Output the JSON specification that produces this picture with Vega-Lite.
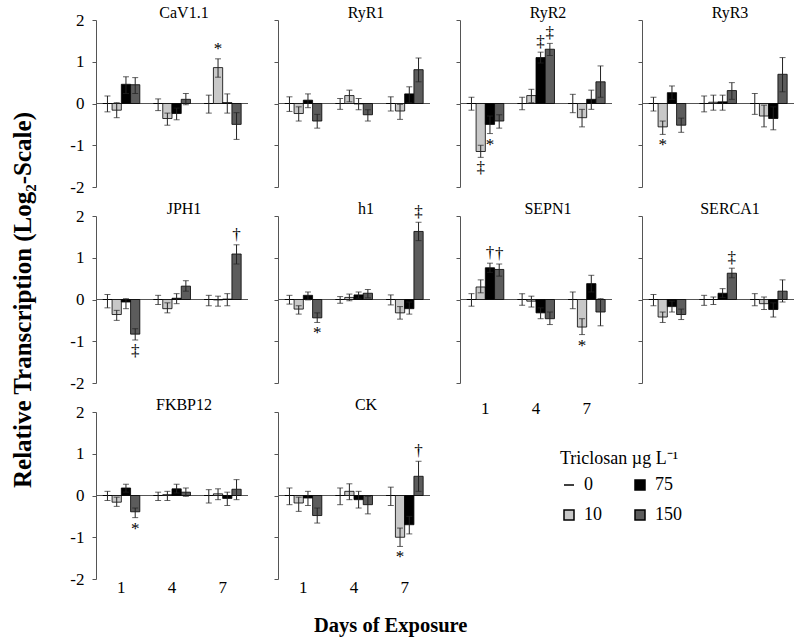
{
"$schema": "https://vega.github.io/schema/vega-lite/v6.json",
"padding": {"left": 10, "top": 5, "right": 5, "bottom": 5},
"config": {
 "font": "Liberation Serif",
 "view": {"stroke": null},
 "text": {"font": "Liberation Serif", "color": "#000"},
 "axisY": {"grid": false, "tickSize": 4, "domainColor": "#555", "tickColor": "#555", "labelFont": "Liberation Serif", "labelFontSize": 17, "labelColor": "#000", "labelPadding": 8, "titleFont": "Liberation Serif", "titleFontSize": 25, "titleFontWeight": "bold", "titleColor": "#000", "titlePadding": 34},
 "axisX": {"domain": false, "ticks": false, "grid": false, "labelFont": "Liberation Serif", "labelFontSize": 17, "labelColor": "#000", "labelAngle": 0, "labelPadding": 0},
 "legend": {"labelFont": "Liberation Serif", "titleFont": "Liberation Serif"}
},
"title": {"text": "Days of Exposure", "orient": "bottom", "anchor": "middle", "font": "Liberation Serif", "fontSize": 20.5, "fontWeight": "bold", "color": "#000", "offset": 21, "dx": -12},
"data": {"name": "d"},
"datasets": {"d": [
{"g":"CaV1.1","d":"1","c":"0","v":0,"lo":-0.2,"hi":0.18},
{"g":"CaV1.1","d":"1","c":"10","v":-0.16,"lo":-0.34,"hi":0.02},
{"g":"CaV1.1","d":"1","c":"75","v":0.46,"lo":0.24,"hi":0.64},
{"g":"CaV1.1","d":"1","c":"150","v":0.45,"lo":0.24,"hi":0.62},
{"g":"CaV1.1","d":"4","c":"0","v":0,"lo":-0.17,"hi":0.11},
{"g":"CaV1.1","d":"4","c":"10","v":-0.36,"lo":-0.52,"hi":-0.23},
{"g":"CaV1.1","d":"4","c":"75","v":-0.24,"lo":-0.39,"hi":-0.11},
{"g":"CaV1.1","d":"4","c":"150","v":0.1,"lo":-0.03,"hi":0.24},
{"g":"CaV1.1","d":"7","c":"0","v":0,"lo":-0.23,"hi":0.2},
{"g":"CaV1.1","d":"7","c":"10","v":0.86,"lo":0.63,"hi":1.07,"s":"*"},
{"g":"CaV1.1","d":"7","c":"75","v":0.02,"lo":-0.23,"hi":0.23},
{"g":"CaV1.1","d":"7","c":"150","v":-0.5,"lo":-0.86,"hi":-0.22},
{"g":"RyR1","d":"1","c":"0","v":0,"lo":-0.19,"hi":0.16},
{"g":"RyR1","d":"1","c":"10","v":-0.24,"lo":-0.42,"hi":-0.08},
{"g":"RyR1","d":"1","c":"75","v":0.08,"lo":-0.1,"hi":0.23},
{"g":"RyR1","d":"1","c":"150","v":-0.42,"lo":-0.59,"hi":-0.26},
{"g":"RyR1","d":"4","c":"0","v":0,"lo":-0.14,"hi":0.12},
{"g":"RyR1","d":"4","c":"10","v":0.19,"lo":0.04,"hi":0.32},
{"g":"RyR1","d":"4","c":"75","v":-0.01,"lo":-0.15,"hi":0.12},
{"g":"RyR1","d":"4","c":"150","v":-0.27,"lo":-0.42,"hi":-0.15},
{"g":"RyR1","d":"7","c":"0","v":0,"lo":-0.18,"hi":0.16},
{"g":"RyR1","d":"7","c":"10","v":-0.18,"lo":-0.38,"hi":-0.02},
{"g":"RyR1","d":"7","c":"75","v":0.23,"lo":0.02,"hi":0.4},
{"g":"RyR1","d":"7","c":"150","v":0.81,"lo":0.52,"hi":1.09},
{"g":"RyR2","d":"1","c":"0","v":0,"lo":-0.16,"hi":0.15},
{"g":"RyR2","d":"1","c":"10","v":-1.15,"lo":-1.29,"hi":-1.0,"s":"‡"},
{"g":"RyR2","d":"1","c":"75","v":-0.5,"lo":-0.72,"hi":-0.3,"s":"*"},
{"g":"RyR2","d":"1","c":"150","v":-0.42,"lo":-0.59,"hi":-0.27},
{"g":"RyR2","d":"4","c":"0","v":0,"lo":-0.15,"hi":0.15},
{"g":"RyR2","d":"4","c":"10","v":0.19,"lo":0.02,"hi":0.34},
{"g":"RyR2","d":"4","c":"75","v":1.1,"lo":0.97,"hi":1.23,"s":"‡"},
{"g":"RyR2","d":"4","c":"150","v":1.3,"lo":1.15,"hi":1.44,"s":"‡"},
{"g":"RyR2","d":"7","c":"0","v":0,"lo":-0.22,"hi":0.22},
{"g":"RyR2","d":"7","c":"10","v":-0.34,"lo":-0.56,"hi":-0.14},
{"g":"RyR2","d":"7","c":"75","v":0.1,"lo":-0.14,"hi":0.32},
{"g":"RyR2","d":"7","c":"150","v":0.52,"lo":0.15,"hi":0.9},
{"g":"RyR3","d":"1","c":"0","v":0,"lo":-0.18,"hi":0.15},
{"g":"RyR3","d":"1","c":"10","v":-0.56,"lo":-0.74,"hi":-0.42,"s":"*"},
{"g":"RyR3","d":"1","c":"75","v":0.26,"lo":0.1,"hi":0.42},
{"g":"RyR3","d":"1","c":"150","v":-0.52,"lo":-0.69,"hi":-0.35},
{"g":"RyR3","d":"4","c":"0","v":0,"lo":-0.2,"hi":0.18},
{"g":"RyR3","d":"4","c":"10","v":0.03,"lo":-0.16,"hi":0.2},
{"g":"RyR3","d":"4","c":"75","v":0.04,"lo":-0.16,"hi":0.2},
{"g":"RyR3","d":"4","c":"150","v":0.31,"lo":0.1,"hi":0.5},
{"g":"RyR3","d":"7","c":"0","v":0,"lo":-0.26,"hi":0.24},
{"g":"RyR3","d":"7","c":"10","v":-0.3,"lo":-0.56,"hi":-0.04},
{"g":"RyR3","d":"7","c":"75","v":-0.36,"lo":-0.63,"hi":-0.08},
{"g":"RyR3","d":"7","c":"150","v":0.7,"lo":0.28,"hi":1.1},
{"g":"JPH1","d":"1","c":"0","v":0,"lo":-0.2,"hi":0.12},
{"g":"JPH1","d":"1","c":"10","v":-0.36,"lo":-0.5,"hi":-0.26},
{"g":"JPH1","d":"1","c":"75","v":-0.06,"lo":-0.22,"hi":0.02},
{"g":"JPH1","d":"1","c":"150","v":-0.83,"lo":-0.97,"hi":-0.7,"s":"‡"},
{"g":"JPH1","d":"4","c":"0","v":0,"lo":-0.12,"hi":0.1},
{"g":"JPH1","d":"4","c":"10","v":-0.22,"lo":-0.32,"hi":-0.08},
{"g":"JPH1","d":"4","c":"75","v":0.03,"lo":-0.1,"hi":0.14},
{"g":"JPH1","d":"4","c":"150","v":0.32,"lo":0.2,"hi":0.45},
{"g":"JPH1","d":"7","c":"0","v":0,"lo":-0.15,"hi":0.1},
{"g":"JPH1","d":"7","c":"10","v":-0.01,"lo":-0.16,"hi":0.08},
{"g":"JPH1","d":"7","c":"75","v":0.01,"lo":-0.15,"hi":0.14},
{"g":"JPH1","d":"7","c":"150","v":1.09,"lo":0.85,"hi":1.31,"s":"†"},
{"g":"h1","d":"1","c":"0","v":0,"lo":-0.11,"hi":0.1},
{"g":"h1","d":"1","c":"10","v":-0.23,"lo":-0.35,"hi":-0.15},
{"g":"h1","d":"1","c":"75","v":0.1,"lo":-0.01,"hi":0.18},
{"g":"h1","d":"1","c":"150","v":-0.44,"lo":-0.55,"hi":-0.32,"s":"*"},
{"g":"h1","d":"4","c":"0","v":0,"lo":-0.09,"hi":0.07},
{"g":"h1","d":"4","c":"10","v":0.05,"lo":-0.03,"hi":0.13},
{"g":"h1","d":"4","c":"75","v":0.11,"lo":0.03,"hi":0.18},
{"g":"h1","d":"4","c":"150","v":0.15,"lo":0.04,"hi":0.24},
{"g":"h1","d":"7","c":"0","v":0,"lo":-0.13,"hi":0.11},
{"g":"h1","d":"7","c":"10","v":-0.32,"lo":-0.47,"hi":-0.17},
{"g":"h1","d":"7","c":"75","v":-0.22,"lo":-0.35,"hi":-0.06},
{"g":"h1","d":"7","c":"150","v":1.63,"lo":1.41,"hi":1.85,"s":"‡"},
{"g":"SEPN1","d":"1","c":"0","v":0,"lo":-0.16,"hi":0.14},
{"g":"SEPN1","d":"1","c":"10","v":0.3,"lo":0.16,"hi":0.47},
{"g":"SEPN1","d":"1","c":"75","v":0.76,"lo":0.65,"hi":0.87,"s":"†"},
{"g":"SEPN1","d":"1","c":"150","v":0.72,"lo":0.56,"hi":0.85,"s":"†"},
{"g":"SEPN1","d":"4","c":"0","v":0,"lo":-0.14,"hi":0.14},
{"g":"SEPN1","d":"4","c":"10","v":-0.04,"lo":-0.18,"hi":0.08},
{"g":"SEPN1","d":"4","c":"75","v":-0.32,"lo":-0.46,"hi":-0.2},
{"g":"SEPN1","d":"4","c":"150","v":-0.46,"lo":-0.6,"hi":-0.3},
{"g":"SEPN1","d":"7","c":"0","v":0,"lo":-0.22,"hi":0.18},
{"g":"SEPN1","d":"7","c":"10","v":-0.66,"lo":-0.84,"hi":-0.46,"s":"*"},
{"g":"SEPN1","d":"7","c":"75","v":0.38,"lo":0.18,"hi":0.58},
{"g":"SEPN1","d":"7","c":"150","v":-0.3,"lo":-0.63,"hi":0.02},
{"g":"SERCA1","d":"1","c":"0","v":0,"lo":-0.15,"hi":0.12},
{"g":"SERCA1","d":"1","c":"10","v":-0.42,"lo":-0.55,"hi":-0.3},
{"g":"SERCA1","d":"1","c":"75","v":-0.17,"lo":-0.3,"hi":-0.04},
{"g":"SERCA1","d":"1","c":"150","v":-0.36,"lo":-0.48,"hi":-0.23},
{"g":"SERCA1","d":"4","c":"0","v":0,"lo":-0.14,"hi":0.1},
{"g":"SERCA1","d":"4","c":"10","v":0.0,"lo":-0.12,"hi":0.06},
{"g":"SERCA1","d":"4","c":"75","v":0.15,"lo":0.05,"hi":0.26},
{"g":"SERCA1","d":"4","c":"150","v":0.63,"lo":0.52,"hi":0.75,"s":"‡"},
{"g":"SERCA1","d":"7","c":"0","v":0,"lo":-0.15,"hi":0.14},
{"g":"SERCA1","d":"7","c":"10","v":-0.1,"lo":-0.24,"hi":0.06},
{"g":"SERCA1","d":"7","c":"75","v":-0.24,"lo":-0.42,"hi":-0.08},
{"g":"SERCA1","d":"7","c":"150","v":0.2,"lo":-0.06,"hi":0.47},
{"g":"FKBP12","d":"1","c":"0","v":0,"lo":-0.12,"hi":0.1},
{"g":"FKBP12","d":"1","c":"10","v":-0.16,"lo":-0.26,"hi":-0.04},
{"g":"FKBP12","d":"1","c":"75","v":0.18,"lo":0.08,"hi":0.27},
{"g":"FKBP12","d":"1","c":"150","v":-0.39,"lo":-0.53,"hi":-0.3,"s":"*"},
{"g":"FKBP12","d":"4","c":"0","v":0,"lo":-0.12,"hi":0.08},
{"g":"FKBP12","d":"4","c":"10","v":0.02,"lo":-0.12,"hi":0.1},
{"g":"FKBP12","d":"4","c":"75","v":0.16,"lo":0.06,"hi":0.27},
{"g":"FKBP12","d":"4","c":"150","v":0.08,"lo":-0.02,"hi":0.18},
{"g":"FKBP12","d":"7","c":"0","v":0,"lo":-0.18,"hi":0.14},
{"g":"FKBP12","d":"7","c":"10","v":0.04,"lo":-0.1,"hi":0.16},
{"g":"FKBP12","d":"7","c":"75","v":-0.07,"lo":-0.24,"hi":0.08},
{"g":"FKBP12","d":"7","c":"150","v":0.15,"lo":-0.1,"hi":0.38},
{"g":"CK","d":"1","c":"0","v":0,"lo":-0.22,"hi":0.18},
{"g":"CK","d":"1","c":"10","v":-0.18,"lo":-0.38,"hi":-0.04},
{"g":"CK","d":"1","c":"75","v":-0.06,"lo":-0.24,"hi":0.1},
{"g":"CK","d":"1","c":"150","v":-0.48,"lo":-0.66,"hi":-0.3},
{"g":"CK","d":"4","c":"0","v":0,"lo":-0.22,"hi":0.18},
{"g":"CK","d":"4","c":"10","v":0.1,"lo":-0.1,"hi":0.28},
{"g":"CK","d":"4","c":"75","v":-0.1,"lo":-0.3,"hi":0.1},
{"g":"CK","d":"4","c":"150","v":-0.22,"lo":-0.44,"hi":-0.02},
{"g":"CK","d":"7","c":"0","v":0,"lo":-0.24,"hi":0.2},
{"g":"CK","d":"7","c":"10","v":-1.0,"lo":-1.22,"hi":-0.78,"s":"*"},
{"g":"CK","d":"7","c":"75","v":-0.7,"lo":-0.92,"hi":-0.5},
{"g":"CK","d":"7","c":"150","v":0.46,"lo":0.1,"hi":0.82,"s":"†"}
]},
"bounds": "flush",
"columns": 4,
"spacing": {"row": 29, "column": 30},
"concat": [
{"width": 152, "height": 167, "transform": [{"filter": "datum.g === 'CaV1.1'"}],
 "layer": [
  {"transform": [{"aggregate": [{"op": "count", "as": "n"}]}], "mark": {"type": "rule", "color": "#555", "strokeWidth": 1}, "encoding": {"y": {"datum": 0, "type": "quantitative", "title": null}}},
  {"mark": {"type": "bar", "stroke": "#000", "strokeWidth": 0.8}, "encoding": {"x": {"field": "d", "type": "ordinal", "scale": {"paddingInner": 0.27, "paddingOuter": 0.135}, "axis": null}, "xOffset": {"field": "c", "type": "nominal", "sort": ["0","10","75","150"]}, "y": {"field": "v", "type": "quantitative", "title": null, "scale": {"domain": [-2, 2], "nice": false}, "axis": {"values": [-2,-1,0,1,2], "labelExpr": "datum.value + ''"}}, "color": {"field": "c", "type": "nominal", "scale": {"domain": ["0","10","75","150"], "range": ["#ffffff","#c8c8c8","#000000","#5c5c5c"]}, "legend": {"title": "Triclosan µg L⁻¹", "orient": "none", "legendX": 464, "legendY": 430, "columns": 2, "columnPadding": 29, "rowPadding": 12, "symbolType": "square", "symbolSize": 100, "symbolStrokeColor": "#000", "symbolStrokeWidth": 1.5, "labelFontSize": 18, "titleFontSize": 18, "titleFontWeight": "normal", "titleColor": "#000", "labelColor": "#000", "labelOffset": 6, "titlePadding": 8, "encode": {"symbols": {"update": {"shape": {"signal": "datum.value === '0' ? 'stroke' : 'square'"}}}}}}}},
  {"mark": {"type": "rule", "color": "#222", "strokeWidth": 1}, "encoding": {"x": {"field": "d", "type": "ordinal", "axis": null}, "xOffset": {"field": "c", "type": "nominal", "sort": ["0","10","75","150"]}, "y": {"field": "lo", "type": "quantitative", "title": null}, "y2": {"field": "hi"}}},
  {"mark": {"type": "tick", "color": "#222", "thickness": 1, "size": 6}, "encoding": {"x": {"field": "d", "type": "ordinal", "axis": null}, "xOffset": {"field": "c", "type": "nominal", "sort": ["0","10","75","150"]}, "y": {"field": "lo", "type": "quantitative", "title": null}}},
  {"mark": {"type": "tick", "color": "#222", "thickness": 1, "size": 6}, "encoding": {"x": {"field": "d", "type": "ordinal", "axis": null}, "xOffset": {"field": "c", "type": "nominal", "sort": ["0","10","75","150"]}, "y": {"field": "hi", "type": "quantitative", "title": null}}},
  {"transform": [{"filter": "datum.s && datum.v > 0"}], "mark": {"type": "text", "baseline": "bottom", "dy": -1, "fontSize": 17, "color": "#000"}, "encoding": {"x": {"field": "d", "type": "ordinal", "axis": null}, "xOffset": {"field": "c", "type": "nominal", "sort": ["0","10","75","150"]}, "y": {"field": "hi", "type": "quantitative", "title": null}, "text": {"field": "s"}}},
  {"transform": [{"filter": "datum.s && datum.v < 0"}], "mark": {"type": "text", "baseline": "top", "dy": 3, "fontSize": 17, "color": "#000"}, "encoding": {"x": {"field": "d", "type": "ordinal", "axis": null}, "xOffset": {"field": "c", "type": "nominal", "sort": ["0","10","75","150"]}, "y": {"field": "lo", "type": "quantitative", "title": null}, "text": {"field": "s"}}},
  {"transform": [{"aggregate": [{"op": "count", "as": "n"}], "groupby": ["g"]}], "mark": {"type": "text", "baseline": "middle", "dx": 12, "dy": -7, "fontSize": 16, "color": "#000"}, "encoding": {"x": {"datum": "4", "type": "ordinal", "axis": null}, "y": {"datum": 2, "type": "quantitative", "title": null}, "text": {"field": "g"}}}
 ]},
{"width": 152, "height": 167, "transform": [{"filter": "datum.g === 'RyR1'"}],
 "layer": [
  {"transform": [{"aggregate": [{"op": "count", "as": "n"}]}], "mark": {"type": "rule", "color": "#555", "strokeWidth": 1}, "encoding": {"y": {"datum": 0, "type": "quantitative", "title": null}}},
  {"mark": {"type": "bar", "stroke": "#000", "strokeWidth": 0.8}, "encoding": {"x": {"field": "d", "type": "ordinal", "scale": {"paddingInner": 0.27, "paddingOuter": 0.135}, "axis": null}, "xOffset": {"field": "c", "type": "nominal", "sort": ["0","10","75","150"]}, "y": {"field": "v", "type": "quantitative", "title": null, "scale": {"domain": [-2, 2], "nice": false}, "axis": {"values": [-2,-1,0,1,2], "labels": false}}, "color": {"field": "c", "type": "nominal", "scale": {"domain": ["0","10","75","150"], "range": ["#ffffff","#c8c8c8","#000000","#5c5c5c"]}}}},
  {"mark": {"type": "rule", "color": "#222", "strokeWidth": 1}, "encoding": {"x": {"field": "d", "type": "ordinal", "axis": null}, "xOffset": {"field": "c", "type": "nominal", "sort": ["0","10","75","150"]}, "y": {"field": "lo", "type": "quantitative", "title": null}, "y2": {"field": "hi"}}},
  {"mark": {"type": "tick", "color": "#222", "thickness": 1, "size": 6}, "encoding": {"x": {"field": "d", "type": "ordinal", "axis": null}, "xOffset": {"field": "c", "type": "nominal", "sort": ["0","10","75","150"]}, "y": {"field": "lo", "type": "quantitative", "title": null}}},
  {"mark": {"type": "tick", "color": "#222", "thickness": 1, "size": 6}, "encoding": {"x": {"field": "d", "type": "ordinal", "axis": null}, "xOffset": {"field": "c", "type": "nominal", "sort": ["0","10","75","150"]}, "y": {"field": "hi", "type": "quantitative", "title": null}}},
  {"transform": [{"filter": "datum.s && datum.v > 0"}], "mark": {"type": "text", "baseline": "bottom", "dy": -1, "fontSize": 17, "color": "#000"}, "encoding": {"x": {"field": "d", "type": "ordinal", "axis": null}, "xOffset": {"field": "c", "type": "nominal", "sort": ["0","10","75","150"]}, "y": {"field": "hi", "type": "quantitative", "title": null}, "text": {"field": "s"}}},
  {"transform": [{"filter": "datum.s && datum.v < 0"}], "mark": {"type": "text", "baseline": "top", "dy": 3, "fontSize": 17, "color": "#000"}, "encoding": {"x": {"field": "d", "type": "ordinal", "axis": null}, "xOffset": {"field": "c", "type": "nominal", "sort": ["0","10","75","150"]}, "y": {"field": "lo", "type": "quantitative", "title": null}, "text": {"field": "s"}}},
  {"transform": [{"aggregate": [{"op": "count", "as": "n"}], "groupby": ["g"]}], "mark": {"type": "text", "baseline": "middle", "dx": 12, "dy": -7, "fontSize": 16, "color": "#000"}, "encoding": {"x": {"datum": "4", "type": "ordinal", "axis": null}, "y": {"datum": 2, "type": "quantitative", "title": null}, "text": {"field": "g"}}}
 ]},
{"width": 152, "height": 167, "transform": [{"filter": "datum.g === 'RyR2'"}],
 "layer": [
  {"transform": [{"aggregate": [{"op": "count", "as": "n"}]}], "mark": {"type": "rule", "color": "#555", "strokeWidth": 1}, "encoding": {"y": {"datum": 0, "type": "quantitative", "title": null}}},
  {"mark": {"type": "bar", "stroke": "#000", "strokeWidth": 0.8}, "encoding": {"x": {"field": "d", "type": "ordinal", "scale": {"paddingInner": 0.27, "paddingOuter": 0.135}, "axis": null}, "xOffset": {"field": "c", "type": "nominal", "sort": ["0","10","75","150"]}, "y": {"field": "v", "type": "quantitative", "title": null, "scale": {"domain": [-2, 2], "nice": false}, "axis": {"values": [-2,-1,0,1,2], "labels": false}}, "color": {"field": "c", "type": "nominal", "scale": {"domain": ["0","10","75","150"], "range": ["#ffffff","#c8c8c8","#000000","#5c5c5c"]}}}},
  {"mark": {"type": "rule", "color": "#222", "strokeWidth": 1}, "encoding": {"x": {"field": "d", "type": "ordinal", "axis": null}, "xOffset": {"field": "c", "type": "nominal", "sort": ["0","10","75","150"]}, "y": {"field": "lo", "type": "quantitative", "title": null}, "y2": {"field": "hi"}}},
  {"mark": {"type": "tick", "color": "#222", "thickness": 1, "size": 6}, "encoding": {"x": {"field": "d", "type": "ordinal", "axis": null}, "xOffset": {"field": "c", "type": "nominal", "sort": ["0","10","75","150"]}, "y": {"field": "lo", "type": "quantitative", "title": null}}},
  {"mark": {"type": "tick", "color": "#222", "thickness": 1, "size": 6}, "encoding": {"x": {"field": "d", "type": "ordinal", "axis": null}, "xOffset": {"field": "c", "type": "nominal", "sort": ["0","10","75","150"]}, "y": {"field": "hi", "type": "quantitative", "title": null}}},
  {"transform": [{"filter": "datum.s && datum.v > 0"}], "mark": {"type": "text", "baseline": "bottom", "dy": -1, "fontSize": 17, "color": "#000"}, "encoding": {"x": {"field": "d", "type": "ordinal", "axis": null}, "xOffset": {"field": "c", "type": "nominal", "sort": ["0","10","75","150"]}, "y": {"field": "hi", "type": "quantitative", "title": null}, "text": {"field": "s"}}},
  {"transform": [{"filter": "datum.s && datum.v < 0"}], "mark": {"type": "text", "baseline": "top", "dy": 3, "fontSize": 17, "color": "#000"}, "encoding": {"x": {"field": "d", "type": "ordinal", "axis": null}, "xOffset": {"field": "c", "type": "nominal", "sort": ["0","10","75","150"]}, "y": {"field": "lo", "type": "quantitative", "title": null}, "text": {"field": "s"}}},
  {"transform": [{"aggregate": [{"op": "count", "as": "n"}], "groupby": ["g"]}], "mark": {"type": "text", "baseline": "middle", "dx": 12, "dy": -7, "fontSize": 16, "color": "#000"}, "encoding": {"x": {"datum": "4", "type": "ordinal", "axis": null}, "y": {"datum": 2, "type": "quantitative", "title": null}, "text": {"field": "g"}}}
 ]},
{"width": 152, "height": 167, "transform": [{"filter": "datum.g === 'RyR3'"}],
 "layer": [
  {"transform": [{"aggregate": [{"op": "count", "as": "n"}]}], "mark": {"type": "rule", "color": "#555", "strokeWidth": 1}, "encoding": {"y": {"datum": 0, "type": "quantitative", "title": null}}},
  {"mark": {"type": "bar", "stroke": "#000", "strokeWidth": 0.8}, "encoding": {"x": {"field": "d", "type": "ordinal", "scale": {"paddingInner": 0.27, "paddingOuter": 0.135}, "axis": null}, "xOffset": {"field": "c", "type": "nominal", "sort": ["0","10","75","150"]}, "y": {"field": "v", "type": "quantitative", "title": null, "scale": {"domain": [-2, 2], "nice": false}, "axis": {"values": [-2,-1,0,1,2], "labels": false}}, "color": {"field": "c", "type": "nominal", "scale": {"domain": ["0","10","75","150"], "range": ["#ffffff","#c8c8c8","#000000","#5c5c5c"]}}}},
  {"mark": {"type": "rule", "color": "#222", "strokeWidth": 1}, "encoding": {"x": {"field": "d", "type": "ordinal", "axis": null}, "xOffset": {"field": "c", "type": "nominal", "sort": ["0","10","75","150"]}, "y": {"field": "lo", "type": "quantitative", "title": null}, "y2": {"field": "hi"}}},
  {"mark": {"type": "tick", "color": "#222", "thickness": 1, "size": 6}, "encoding": {"x": {"field": "d", "type": "ordinal", "axis": null}, "xOffset": {"field": "c", "type": "nominal", "sort": ["0","10","75","150"]}, "y": {"field": "lo", "type": "quantitative", "title": null}}},
  {"mark": {"type": "tick", "color": "#222", "thickness": 1, "size": 6}, "encoding": {"x": {"field": "d", "type": "ordinal", "axis": null}, "xOffset": {"field": "c", "type": "nominal", "sort": ["0","10","75","150"]}, "y": {"field": "hi", "type": "quantitative", "title": null}}},
  {"transform": [{"filter": "datum.s && datum.v > 0"}], "mark": {"type": "text", "baseline": "bottom", "dy": -1, "fontSize": 17, "color": "#000"}, "encoding": {"x": {"field": "d", "type": "ordinal", "axis": null}, "xOffset": {"field": "c", "type": "nominal", "sort": ["0","10","75","150"]}, "y": {"field": "hi", "type": "quantitative", "title": null}, "text": {"field": "s"}}},
  {"transform": [{"filter": "datum.s && datum.v < 0"}], "mark": {"type": "text", "baseline": "top", "dy": 3, "fontSize": 17, "color": "#000"}, "encoding": {"x": {"field": "d", "type": "ordinal", "axis": null}, "xOffset": {"field": "c", "type": "nominal", "sort": ["0","10","75","150"]}, "y": {"field": "lo", "type": "quantitative", "title": null}, "text": {"field": "s"}}},
  {"transform": [{"aggregate": [{"op": "count", "as": "n"}], "groupby": ["g"]}], "mark": {"type": "text", "baseline": "middle", "dx": 12, "dy": -7, "fontSize": 16, "color": "#000"}, "encoding": {"x": {"datum": "4", "type": "ordinal", "axis": null}, "y": {"datum": 2, "type": "quantitative", "title": null}, "text": {"field": "g"}}}
 ]},
{"width": 152, "height": 167, "transform": [{"filter": "datum.g === 'JPH1'"}],
 "layer": [
  {"transform": [{"aggregate": [{"op": "count", "as": "n"}]}], "mark": {"type": "rule", "color": "#555", "strokeWidth": 1}, "encoding": {"y": {"datum": 0, "type": "quantitative", "title": "Relative Transcription  (Log₂-Scale)"}}},
  {"mark": {"type": "bar", "stroke": "#000", "strokeWidth": 0.8}, "encoding": {"x": {"field": "d", "type": "ordinal", "scale": {"paddingInner": 0.27, "paddingOuter": 0.135}, "axis": null}, "xOffset": {"field": "c", "type": "nominal", "sort": ["0","10","75","150"]}, "y": {"field": "v", "type": "quantitative", "title": "Relative Transcription  (Log₂-Scale)", "scale": {"domain": [-2, 2], "nice": false}, "axis": {"values": [-2,-1,0,1,2], "labelExpr": "datum.value + ''"}}, "color": {"field": "c", "type": "nominal", "scale": {"domain": ["0","10","75","150"], "range": ["#ffffff","#c8c8c8","#000000","#5c5c5c"]}}}},
  {"mark": {"type": "rule", "color": "#222", "strokeWidth": 1}, "encoding": {"x": {"field": "d", "type": "ordinal", "axis": null}, "xOffset": {"field": "c", "type": "nominal", "sort": ["0","10","75","150"]}, "y": {"field": "lo", "type": "quantitative", "title": "Relative Transcription  (Log₂-Scale)"}, "y2": {"field": "hi"}}},
  {"mark": {"type": "tick", "color": "#222", "thickness": 1, "size": 6}, "encoding": {"x": {"field": "d", "type": "ordinal", "axis": null}, "xOffset": {"field": "c", "type": "nominal", "sort": ["0","10","75","150"]}, "y": {"field": "lo", "type": "quantitative", "title": "Relative Transcription  (Log₂-Scale)"}}},
  {"mark": {"type": "tick", "color": "#222", "thickness": 1, "size": 6}, "encoding": {"x": {"field": "d", "type": "ordinal", "axis": null}, "xOffset": {"field": "c", "type": "nominal", "sort": ["0","10","75","150"]}, "y": {"field": "hi", "type": "quantitative", "title": "Relative Transcription  (Log₂-Scale)"}}},
  {"transform": [{"filter": "datum.s && datum.v > 0"}], "mark": {"type": "text", "baseline": "bottom", "dy": -1, "fontSize": 17, "color": "#000"}, "encoding": {"x": {"field": "d", "type": "ordinal", "axis": null}, "xOffset": {"field": "c", "type": "nominal", "sort": ["0","10","75","150"]}, "y": {"field": "hi", "type": "quantitative", "title": "Relative Transcription  (Log₂-Scale)"}, "text": {"field": "s"}}},
  {"transform": [{"filter": "datum.s && datum.v < 0"}], "mark": {"type": "text", "baseline": "top", "dy": 3, "fontSize": 17, "color": "#000"}, "encoding": {"x": {"field": "d", "type": "ordinal", "axis": null}, "xOffset": {"field": "c", "type": "nominal", "sort": ["0","10","75","150"]}, "y": {"field": "lo", "type": "quantitative", "title": "Relative Transcription  (Log₂-Scale)"}, "text": {"field": "s"}}},
  {"transform": [{"aggregate": [{"op": "count", "as": "n"}], "groupby": ["g"]}], "mark": {"type": "text", "baseline": "middle", "dx": 12, "dy": -7, "fontSize": 16, "color": "#000"}, "encoding": {"x": {"datum": "4", "type": "ordinal", "axis": null}, "y": {"datum": 2, "type": "quantitative", "title": "Relative Transcription  (Log₂-Scale)"}, "text": {"field": "g"}}}
 ]},
{"width": 152, "height": 167, "transform": [{"filter": "datum.g === 'h1'"}],
 "layer": [
  {"transform": [{"aggregate": [{"op": "count", "as": "n"}]}], "mark": {"type": "rule", "color": "#555", "strokeWidth": 1}, "encoding": {"y": {"datum": 0, "type": "quantitative", "title": null}}},
  {"mark": {"type": "bar", "stroke": "#000", "strokeWidth": 0.8}, "encoding": {"x": {"field": "d", "type": "ordinal", "scale": {"paddingInner": 0.27, "paddingOuter": 0.135}, "axis": null}, "xOffset": {"field": "c", "type": "nominal", "sort": ["0","10","75","150"]}, "y": {"field": "v", "type": "quantitative", "title": null, "scale": {"domain": [-2, 2], "nice": false}, "axis": {"values": [-2,-1,0,1,2], "labels": false}}, "color": {"field": "c", "type": "nominal", "scale": {"domain": ["0","10","75","150"], "range": ["#ffffff","#c8c8c8","#000000","#5c5c5c"]}}}},
  {"mark": {"type": "rule", "color": "#222", "strokeWidth": 1}, "encoding": {"x": {"field": "d", "type": "ordinal", "axis": null}, "xOffset": {"field": "c", "type": "nominal", "sort": ["0","10","75","150"]}, "y": {"field": "lo", "type": "quantitative", "title": null}, "y2": {"field": "hi"}}},
  {"mark": {"type": "tick", "color": "#222", "thickness": 1, "size": 6}, "encoding": {"x": {"field": "d", "type": "ordinal", "axis": null}, "xOffset": {"field": "c", "type": "nominal", "sort": ["0","10","75","150"]}, "y": {"field": "lo", "type": "quantitative", "title": null}}},
  {"mark": {"type": "tick", "color": "#222", "thickness": 1, "size": 6}, "encoding": {"x": {"field": "d", "type": "ordinal", "axis": null}, "xOffset": {"field": "c", "type": "nominal", "sort": ["0","10","75","150"]}, "y": {"field": "hi", "type": "quantitative", "title": null}}},
  {"transform": [{"filter": "datum.s && datum.v > 0"}], "mark": {"type": "text", "baseline": "bottom", "dy": -1, "fontSize": 17, "color": "#000"}, "encoding": {"x": {"field": "d", "type": "ordinal", "axis": null}, "xOffset": {"field": "c", "type": "nominal", "sort": ["0","10","75","150"]}, "y": {"field": "hi", "type": "quantitative", "title": null}, "text": {"field": "s"}}},
  {"transform": [{"filter": "datum.s && datum.v < 0"}], "mark": {"type": "text", "baseline": "top", "dy": 3, "fontSize": 17, "color": "#000"}, "encoding": {"x": {"field": "d", "type": "ordinal", "axis": null}, "xOffset": {"field": "c", "type": "nominal", "sort": ["0","10","75","150"]}, "y": {"field": "lo", "type": "quantitative", "title": null}, "text": {"field": "s"}}},
  {"transform": [{"aggregate": [{"op": "count", "as": "n"}], "groupby": ["g"]}], "mark": {"type": "text", "baseline": "middle", "dx": 12, "dy": -7, "fontSize": 16, "color": "#000"}, "encoding": {"x": {"datum": "4", "type": "ordinal", "axis": null}, "y": {"datum": 2, "type": "quantitative", "title": null}, "text": {"field": "g"}}}
 ]},
{"width": 152, "height": 167, "transform": [{"filter": "datum.g === 'SEPN1'"}],
 "layer": [
  {"transform": [{"aggregate": [{"op": "count", "as": "n"}]}], "mark": {"type": "rule", "color": "#555", "strokeWidth": 1}, "encoding": {"y": {"datum": 0, "type": "quantitative", "title": null}}},
  {"mark": {"type": "bar", "stroke": "#000", "strokeWidth": 0.8}, "encoding": {"x": {"field": "d", "type": "ordinal", "scale": {"paddingInner": 0.27, "paddingOuter": 0.135}, "axis": {"title": null, "labelPadding": 17}}, "xOffset": {"field": "c", "type": "nominal", "sort": ["0","10","75","150"]}, "y": {"field": "v", "type": "quantitative", "title": null, "scale": {"domain": [-2, 2], "nice": false}, "axis": {"values": [-2,-1,0,1,2], "labels": false}}, "color": {"field": "c", "type": "nominal", "scale": {"domain": ["0","10","75","150"], "range": ["#ffffff","#c8c8c8","#000000","#5c5c5c"]}}}},
  {"mark": {"type": "rule", "color": "#222", "strokeWidth": 1}, "encoding": {"x": {"field": "d", "type": "ordinal", "axis": {"title": null, "labelPadding": 17}}, "xOffset": {"field": "c", "type": "nominal", "sort": ["0","10","75","150"]}, "y": {"field": "lo", "type": "quantitative", "title": null}, "y2": {"field": "hi"}}},
  {"mark": {"type": "tick", "color": "#222", "thickness": 1, "size": 6}, "encoding": {"x": {"field": "d", "type": "ordinal", "axis": {"title": null, "labelPadding": 17}}, "xOffset": {"field": "c", "type": "nominal", "sort": ["0","10","75","150"]}, "y": {"field": "lo", "type": "quantitative", "title": null}}},
  {"mark": {"type": "tick", "color": "#222", "thickness": 1, "size": 6}, "encoding": {"x": {"field": "d", "type": "ordinal", "axis": {"title": null, "labelPadding": 17}}, "xOffset": {"field": "c", "type": "nominal", "sort": ["0","10","75","150"]}, "y": {"field": "hi", "type": "quantitative", "title": null}}},
  {"transform": [{"filter": "datum.s && datum.v > 0"}], "mark": {"type": "text", "baseline": "bottom", "dy": -1, "fontSize": 17, "color": "#000"}, "encoding": {"x": {"field": "d", "type": "ordinal", "axis": {"title": null, "labelPadding": 17}}, "xOffset": {"field": "c", "type": "nominal", "sort": ["0","10","75","150"]}, "y": {"field": "hi", "type": "quantitative", "title": null}, "text": {"field": "s"}}},
  {"transform": [{"filter": "datum.s && datum.v < 0"}], "mark": {"type": "text", "baseline": "top", "dy": 3, "fontSize": 17, "color": "#000"}, "encoding": {"x": {"field": "d", "type": "ordinal", "axis": {"title": null, "labelPadding": 17}}, "xOffset": {"field": "c", "type": "nominal", "sort": ["0","10","75","150"]}, "y": {"field": "lo", "type": "quantitative", "title": null}, "text": {"field": "s"}}},
  {"transform": [{"aggregate": [{"op": "count", "as": "n"}], "groupby": ["g"]}], "mark": {"type": "text", "baseline": "middle", "dx": 12, "dy": -7, "fontSize": 16, "color": "#000"}, "encoding": {"x": {"datum": "4", "type": "ordinal", "axis": {"title": null, "labelPadding": 17}}, "y": {"datum": 2, "type": "quantitative", "title": null}, "text": {"field": "g"}}}
 ]},
{"width": 152, "height": 167, "transform": [{"filter": "datum.g === 'SERCA1'"}],
 "layer": [
  {"transform": [{"aggregate": [{"op": "count", "as": "n"}]}], "mark": {"type": "rule", "color": "#555", "strokeWidth": 1}, "encoding": {"y": {"datum": 0, "type": "quantitative", "title": null}}},
  {"mark": {"type": "bar", "stroke": "#000", "strokeWidth": 0.8}, "encoding": {"x": {"field": "d", "type": "ordinal", "scale": {"paddingInner": 0.27, "paddingOuter": 0.135}, "axis": null}, "xOffset": {"field": "c", "type": "nominal", "sort": ["0","10","75","150"]}, "y": {"field": "v", "type": "quantitative", "title": null, "scale": {"domain": [-2, 2], "nice": false}, "axis": {"values": [-2,-1,0,1,2], "labels": false}}, "color": {"field": "c", "type": "nominal", "scale": {"domain": ["0","10","75","150"], "range": ["#ffffff","#c8c8c8","#000000","#5c5c5c"]}}}},
  {"mark": {"type": "rule", "color": "#222", "strokeWidth": 1}, "encoding": {"x": {"field": "d", "type": "ordinal", "axis": null}, "xOffset": {"field": "c", "type": "nominal", "sort": ["0","10","75","150"]}, "y": {"field": "lo", "type": "quantitative", "title": null}, "y2": {"field": "hi"}}},
  {"mark": {"type": "tick", "color": "#222", "thickness": 1, "size": 6}, "encoding": {"x": {"field": "d", "type": "ordinal", "axis": null}, "xOffset": {"field": "c", "type": "nominal", "sort": ["0","10","75","150"]}, "y": {"field": "lo", "type": "quantitative", "title": null}}},
  {"mark": {"type": "tick", "color": "#222", "thickness": 1, "size": 6}, "encoding": {"x": {"field": "d", "type": "ordinal", "axis": null}, "xOffset": {"field": "c", "type": "nominal", "sort": ["0","10","75","150"]}, "y": {"field": "hi", "type": "quantitative", "title": null}}},
  {"transform": [{"filter": "datum.s && datum.v > 0"}], "mark": {"type": "text", "baseline": "bottom", "dy": -1, "fontSize": 17, "color": "#000"}, "encoding": {"x": {"field": "d", "type": "ordinal", "axis": null}, "xOffset": {"field": "c", "type": "nominal", "sort": ["0","10","75","150"]}, "y": {"field": "hi", "type": "quantitative", "title": null}, "text": {"field": "s"}}},
  {"transform": [{"filter": "datum.s && datum.v < 0"}], "mark": {"type": "text", "baseline": "top", "dy": 3, "fontSize": 17, "color": "#000"}, "encoding": {"x": {"field": "d", "type": "ordinal", "axis": null}, "xOffset": {"field": "c", "type": "nominal", "sort": ["0","10","75","150"]}, "y": {"field": "lo", "type": "quantitative", "title": null}, "text": {"field": "s"}}},
  {"transform": [{"aggregate": [{"op": "count", "as": "n"}], "groupby": ["g"]}], "mark": {"type": "text", "baseline": "middle", "dx": 12, "dy": -7, "fontSize": 16, "color": "#000"}, "encoding": {"x": {"datum": "4", "type": "ordinal", "axis": null}, "y": {"datum": 2, "type": "quantitative", "title": null}, "text": {"field": "g"}}}
 ]},
{"width": 152, "height": 167, "transform": [{"filter": "datum.g === 'FKBP12'"}],
 "layer": [
  {"transform": [{"aggregate": [{"op": "count", "as": "n"}]}], "mark": {"type": "rule", "color": "#555", "strokeWidth": 1}, "encoding": {"y": {"datum": 0, "type": "quantitative", "title": null}}},
  {"mark": {"type": "bar", "stroke": "#000", "strokeWidth": 0.8}, "encoding": {"x": {"field": "d", "type": "ordinal", "scale": {"paddingInner": 0.27, "paddingOuter": 0.135}, "axis": {"title": null}}, "xOffset": {"field": "c", "type": "nominal", "sort": ["0","10","75","150"]}, "y": {"field": "v", "type": "quantitative", "title": null, "scale": {"domain": [-2, 2], "nice": false}, "axis": {"values": [-2,-1,0,1,2], "labelExpr": "datum.value + ''"}}, "color": {"field": "c", "type": "nominal", "scale": {"domain": ["0","10","75","150"], "range": ["#ffffff","#c8c8c8","#000000","#5c5c5c"]}}}},
  {"mark": {"type": "rule", "color": "#222", "strokeWidth": 1}, "encoding": {"x": {"field": "d", "type": "ordinal", "axis": {"title": null}}, "xOffset": {"field": "c", "type": "nominal", "sort": ["0","10","75","150"]}, "y": {"field": "lo", "type": "quantitative", "title": null}, "y2": {"field": "hi"}}},
  {"mark": {"type": "tick", "color": "#222", "thickness": 1, "size": 6}, "encoding": {"x": {"field": "d", "type": "ordinal", "axis": {"title": null}}, "xOffset": {"field": "c", "type": "nominal", "sort": ["0","10","75","150"]}, "y": {"field": "lo", "type": "quantitative", "title": null}}},
  {"mark": {"type": "tick", "color": "#222", "thickness": 1, "size": 6}, "encoding": {"x": {"field": "d", "type": "ordinal", "axis": {"title": null}}, "xOffset": {"field": "c", "type": "nominal", "sort": ["0","10","75","150"]}, "y": {"field": "hi", "type": "quantitative", "title": null}}},
  {"transform": [{"filter": "datum.s && datum.v > 0"}], "mark": {"type": "text", "baseline": "bottom", "dy": -1, "fontSize": 17, "color": "#000"}, "encoding": {"x": {"field": "d", "type": "ordinal", "axis": {"title": null}}, "xOffset": {"field": "c", "type": "nominal", "sort": ["0","10","75","150"]}, "y": {"field": "hi", "type": "quantitative", "title": null}, "text": {"field": "s"}}},
  {"transform": [{"filter": "datum.s && datum.v < 0"}], "mark": {"type": "text", "baseline": "top", "dy": 3, "fontSize": 17, "color": "#000"}, "encoding": {"x": {"field": "d", "type": "ordinal", "axis": {"title": null}}, "xOffset": {"field": "c", "type": "nominal", "sort": ["0","10","75","150"]}, "y": {"field": "lo", "type": "quantitative", "title": null}, "text": {"field": "s"}}},
  {"transform": [{"aggregate": [{"op": "count", "as": "n"}], "groupby": ["g"]}], "mark": {"type": "text", "baseline": "middle", "dx": 12, "dy": -7, "fontSize": 16, "color": "#000"}, "encoding": {"x": {"datum": "4", "type": "ordinal", "axis": {"title": null}}, "y": {"datum": 2, "type": "quantitative", "title": null}, "text": {"field": "g"}}}
 ]},
{"width": 152, "height": 167, "transform": [{"filter": "datum.g === 'CK'"}],
 "layer": [
  {"transform": [{"aggregate": [{"op": "count", "as": "n"}]}], "mark": {"type": "rule", "color": "#555", "strokeWidth": 1}, "encoding": {"y": {"datum": 0, "type": "quantitative", "title": null}}},
  {"mark": {"type": "bar", "stroke": "#000", "strokeWidth": 0.8}, "encoding": {"x": {"field": "d", "type": "ordinal", "scale": {"paddingInner": 0.27, "paddingOuter": 0.135}, "axis": {"title": null}}, "xOffset": {"field": "c", "type": "nominal", "sort": ["0","10","75","150"]}, "y": {"field": "v", "type": "quantitative", "title": null, "scale": {"domain": [-2, 2], "nice": false}, "axis": {"values": [-2,-1,0,1,2], "labels": false}}, "color": {"field": "c", "type": "nominal", "scale": {"domain": ["0","10","75","150"], "range": ["#ffffff","#c8c8c8","#000000","#5c5c5c"]}}}},
  {"mark": {"type": "rule", "color": "#222", "strokeWidth": 1}, "encoding": {"x": {"field": "d", "type": "ordinal", "axis": {"title": null}}, "xOffset": {"field": "c", "type": "nominal", "sort": ["0","10","75","150"]}, "y": {"field": "lo", "type": "quantitative", "title": null}, "y2": {"field": "hi"}}},
  {"mark": {"type": "tick", "color": "#222", "thickness": 1, "size": 6}, "encoding": {"x": {"field": "d", "type": "ordinal", "axis": {"title": null}}, "xOffset": {"field": "c", "type": "nominal", "sort": ["0","10","75","150"]}, "y": {"field": "lo", "type": "quantitative", "title": null}}},
  {"mark": {"type": "tick", "color": "#222", "thickness": 1, "size": 6}, "encoding": {"x": {"field": "d", "type": "ordinal", "axis": {"title": null}}, "xOffset": {"field": "c", "type": "nominal", "sort": ["0","10","75","150"]}, "y": {"field": "hi", "type": "quantitative", "title": null}}},
  {"transform": [{"filter": "datum.s && datum.v > 0"}], "mark": {"type": "text", "baseline": "bottom", "dy": -1, "fontSize": 17, "color": "#000"}, "encoding": {"x": {"field": "d", "type": "ordinal", "axis": {"title": null}}, "xOffset": {"field": "c", "type": "nominal", "sort": ["0","10","75","150"]}, "y": {"field": "hi", "type": "quantitative", "title": null}, "text": {"field": "s"}}},
  {"transform": [{"filter": "datum.s && datum.v < 0"}], "mark": {"type": "text", "baseline": "top", "dy": 3, "fontSize": 17, "color": "#000"}, "encoding": {"x": {"field": "d", "type": "ordinal", "axis": {"title": null}}, "xOffset": {"field": "c", "type": "nominal", "sort": ["0","10","75","150"]}, "y": {"field": "lo", "type": "quantitative", "title": null}, "text": {"field": "s"}}},
  {"transform": [{"aggregate": [{"op": "count", "as": "n"}], "groupby": ["g"]}], "mark": {"type": "text", "baseline": "middle", "dx": 12, "dy": -7, "fontSize": 16, "color": "#000"}, "encoding": {"x": {"datum": "4", "type": "ordinal", "axis": {"title": null}}, "y": {"datum": 2, "type": "quantitative", "title": null}, "text": {"field": "g"}}}
 ]}
]
}
